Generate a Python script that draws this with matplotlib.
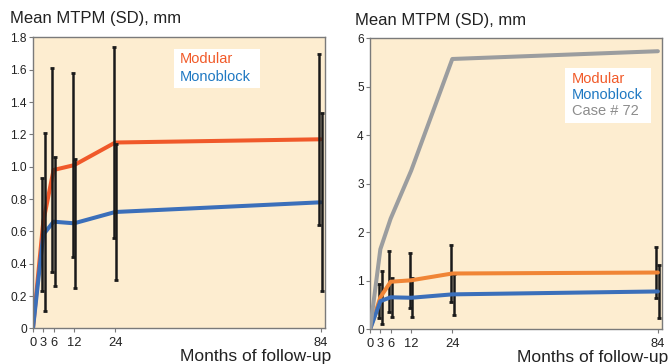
import numpy as np
import matplotlib
matplotlib.use("Agg")
import matplotlib.pyplot as plt
from matplotlib.patches import Rectangle

plt.rcParams['font.family'] = ['Liberation Sans', 'DejaVu Sans']

# Data
months = [0, 3, 6, 12, 24, 84]
modular_mean = [0, 0.66, 0.98, 1.01, 1.15, 1.17]
modular_sd = [0, 0.55, 0.63, 0.57, 0.59, 0.53]
monoblock_mean = [0, 0.58, 0.66, 0.65, 0.72, 0.78]
monoblock_sd = [0, 0.35, 0.40, 0.40, 0.42, 0.55]
case72 = [0, 1.65, 2.28, 3.27, 5.57, 5.73]

# small horizontal shifts of the error bars (months)
mod_shift = [0, 0.5, -0.35, -0.35, -0.35, -0.5]
mono_shift = [0, -0.4, 0.35, 0.35, 0.35, 0.3]

BG = '#FDEDD0'
RED = '#F0592A'
ORANGE = '#F08536'
BLUE = '#3B6FBA'
GRAY = '#9B9D9F'
FRAME = '#7A7A7A'

fig = plt.figure(figsize=(6.68, 3.64), dpi=100)
ax1 = fig.add_axes([0.0494, 0.098, 0.437, 0.799])
ax2 = fig.add_axes([0.554, 0.0953, 0.437, 0.80])


def errbars(ax, mean, sd, shift, z):
    x = np.array(months[1:]) + np.array(shift[1:])
    ax.errorbar(x, mean[1:], yerr=sd[1:], fmt='none', ecolor='#1a1a1a',
                elinewidth=1.8, capsize=1.6, capthick=2, zorder=z)


def style(ax, ymax, yticks, ylabels):
    ax.set_facecolor(BG)
    ax.set_xlim(0, 85.2)
    ax.set_ylim(0, ymax)
    ax.set_xticks(months)
    ax.set_xticklabels([str(m) for m in months])
    ax.set_yticks(yticks)
    ax.set_yticklabels(ylabels)
    ax.tick_params(length=3, width=0.8, color=FRAME, labelcolor='#222222',
                   pad=1.5)
    ax.tick_params(axis='x', labelsize=9.3, pad=3)
    ax.tick_params(axis='y', labelsize=8.6)
    for s in ax.spines.values():
        s.set_color(FRAME)
        s.set_linewidth(1.0)
    ax.set_xlabel('Months of follow-up', fontsize=12.5, color='#222222')
    ax.xaxis.set_label_coords(1.02, -0.072)
    ax.xaxis.label.set_ha('right')
    ax.xaxis.label.set_va('top')


def legend_box(ax, box, tx, items):
    x0, y0, x1, y1 = box
    ax.add_patch(Rectangle((x0, y0), x1 - x0, y1 - y0, transform=ax.transAxes,
                           facecolor='white', edgecolor='none', zorder=5))
    for (lab, col, ty) in items:
        ax.text(tx, ty, lab, transform=ax.transAxes, fontsize=10.5, color=col,
                va='center', ha='left', zorder=6)


# Left panel
style(ax1, 1.8, np.arange(0, 1.81, 0.2),
      ['0'] + ['%.1f' % v for v in np.arange(0.2, 1.81, 0.2)])
ax1.plot(months, modular_mean, color=RED, lw=2.9, zorder=2,
         solid_capstyle='round')
ax1.plot(months, monoblock_mean, color=BLUE, lw=2.9, zorder=2,
         solid_capstyle='round')
errbars(ax1, modular_mean, modular_sd, mod_shift, 3)
errbars(ax1, monoblock_mean, monoblock_sd, mono_shift, 3)
fig.text(0.015, 0.948, 'Mean MTPM (SD), mm', fontsize=12, color='#222222',
         va='center', ha='left')
legend_box(ax1, (0.483, 0.826, 0.777, 0.960), 0.503,
           [('Modular', '#F15A29', 0.926), ('Monoblock', '#1E78C2', 0.865)])

# Right panel
style(ax2, 6, range(0, 7), [str(v) for v in range(0, 7)])
errbars(ax2, modular_mean, modular_sd, mod_shift, 2)
errbars(ax2, monoblock_mean, monoblock_sd, mono_shift, 2)
ax2.plot(months, modular_mean, color=ORANGE, lw=2.9, zorder=3,
         solid_capstyle='round')
ax2.plot(months, monoblock_mean, color=BLUE, lw=2.9, zorder=3,
         solid_capstyle='round')
ax2.plot(months, case72, color=GRAY, lw=2.9, zorder=3,
         solid_capstyle='round')
fig.text(0.532, 0.945, 'Mean MTPM (SD), mm', fontsize=12, color='#222222',
         va='center', ha='left')
legend_box(ax2, (0.668, 0.709, 0.962, 0.898), 0.691,
           [('Modular', '#F15A29', 0.860), ('Monoblock', '#1E78C2', 0.803),
            ('Case # 72', '#8C8C8C', 0.750)])

fig.savefig('out.png', dpi=100)
